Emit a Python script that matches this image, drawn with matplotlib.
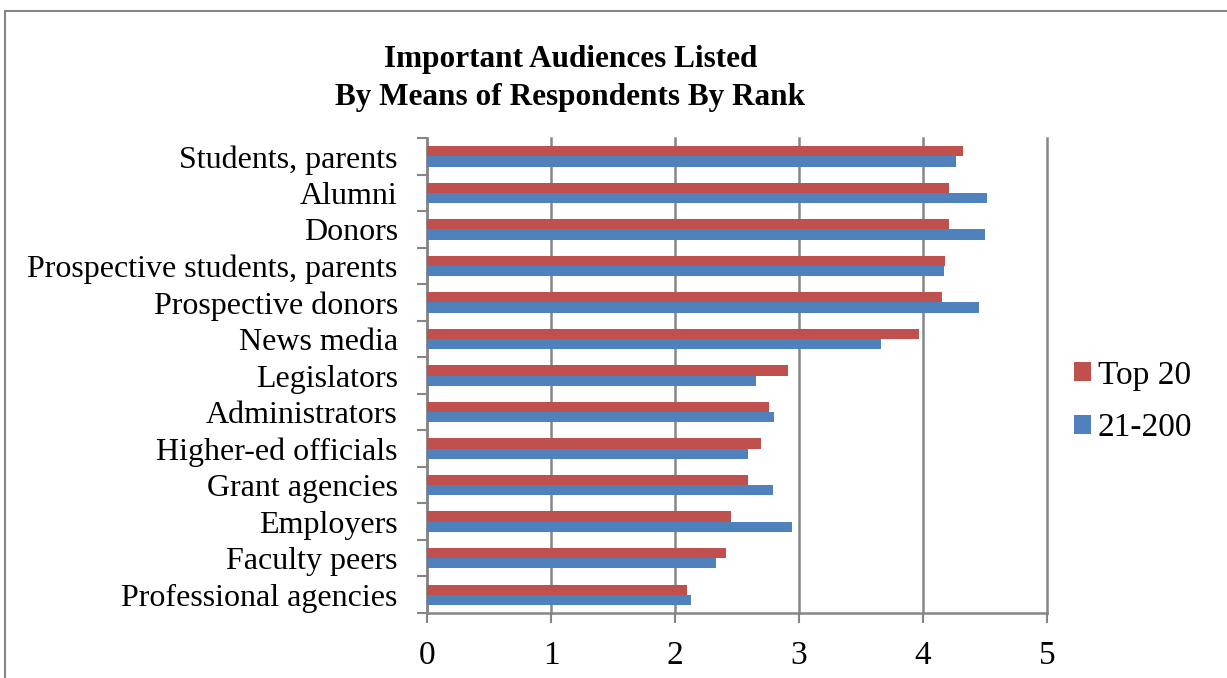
import matplotlib.pyplot as plt
import numpy as np
from matplotlib.patches import Rectangle

plt.rcParams['font.family'] = ['Liberation Serif', 'DejaVu Serif']

audiences = ['Students, parents', 'Alumni', 'Donors',
             'Prospective students, parents', 'Prospective donors',
             'News media', 'Legislators', 'Administrators',
             'Higher-ed officials', 'Grant agencies', 'Employers',
             'Faculty peers', 'Professional agencies']
top20 = [4.32, 4.21, 4.21, 4.18, 4.15, 3.97, 2.91, 2.76, 2.69, 2.59, 2.45, 2.41, 2.10]
rank21_200 = [4.27, 4.52, 4.50, 4.17, 4.45, 3.66, 2.65, 2.80, 2.59, 2.79, 2.94, 2.33, 2.13]

red = '#C0504D'
blue = '#4F81BD'
grey = '#868686'

fig = plt.figure(figsize=(12.27, 6.78), dpi=100)
ax = fig.add_axes([427/1227, 1-613/678, 620/1227, (613-138)/678])

y = np.arange(len(audiences))
h = 0.28
ax.barh(y - h/2, top20, height=h, color=red, label='Top 20', zorder=3)
ax.barh(y + h/2, rank21_200, height=h, color=blue, label='21-200', zorder=3)

ax.set_xlim(0, 5)
ax.set_ylim(len(audiences) - 0.5, -0.5)
ax.set_yticks(y)
ax.set_yticklabels(audiences, fontsize=23)
# category boundary ticks like excel
ax.set_yticks(np.arange(len(audiences) + 1) - 0.5, minor=True)
ax.tick_params(axis='y', which='minor', length=7, width=1.5, color=grey)
ax.set_xticks(range(6))
ax.tick_params(axis='x', labelsize=24, length=7, width=1.5, color=grey, pad=13)
ax.tick_params(axis='y', which='major', length=0, pad=21)
ax.grid(axis='x', color=grey, linewidth=1.8, zorder=0)
for line in ax.get_xgridlines():
    line.set_clip_on(False)
for s in ['top', 'right']:
    ax.spines[s].set_visible(False)
for s in ['left', 'bottom']:
    ax.spines[s].set_color(grey)
    ax.spines[s].set_linewidth(1.8)

fig.text(0.465, 1-59/678, 'Important Audiences Listed', ha='center', va='center',
         fontsize=22.5, fontweight='bold')
fig.text(0.465, 1-98/678, 'By Means of Respondents By Rank', ha='center', va='center',
         fontsize=22.5, fontweight='bold')

ax.legend(loc='center left', bbox_to_anchor=(0.995, 0.445), frameon=False,
          fontsize=24, handlelength=0.5, handleheight=0.5, handletextpad=0.22,
          labelspacing=0.65)

fig.patches.append(Rectangle((5/1227, -0.1), 1.2, 1 - 11/678 + 0.1,
                             transform=fig.transFigure, fill=False,
                             edgecolor=grey, linewidth=1.5))

fig.savefig('out.png', dpi=100)
